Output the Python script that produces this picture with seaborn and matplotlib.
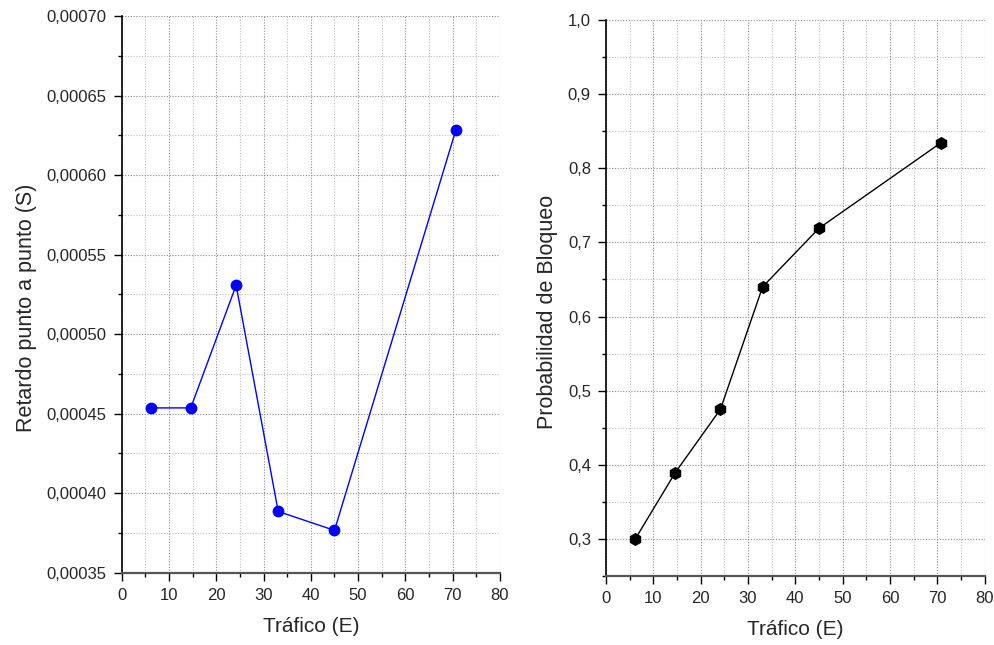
import matplotlib
matplotlib.use("Agg")
import matplotlib.pyplot as plt
from matplotlib.ticker import FuncFormatter, MultipleLocator
import seaborn as sns
import pandas as pd

# Offered traffic (Erlang) for each simulation run
trafico = [6.2, 14.6, 24.2, 33.1, 45.0, 70.7]
# End-to-end delay (s)
retardo = [0.0004536, 0.0004536, 0.0005307, 0.0003885, 0.0003766, 0.0006286]
# Blocking probability
prob_bloqueo = [0.300, 0.389, 0.475, 0.640, 0.719, 0.834]

x_label = "Tráfico (E)"
y_label_retardo = "Retardo punto a punto (S)"
y_label_bloqueo = "Probabilidad de Bloqueo"

df = pd.DataFrame({"trafico": trafico, "retardo": retardo, "bloqueo": prob_bloqueo})

sns.set_style("white")
plt.rcParams["font.family"] = ["Liberation Sans", "DejaVu Sans"]

fig = plt.figure(figsize=(9.95, 6.45), dpi=100)
ax1 = fig.add_axes([0.1223, 0.1121, 0.3802, 0.8631])
ax2 = fig.add_axes([0.6090, 0.1070, 0.3805, 0.8620])

sns.lineplot(data=df, x="trafico", y="retardo", ax=ax1, color="#0000ff",
             linewidth=1.0, marker="o", markersize=8.5, markeredgecolor="#0000ff",
             markeredgewidth=0)
sns.lineplot(data=df, x="trafico", y="bloqueo", ax=ax2, color="black",
             linewidth=1.0, marker="h", markersize=9.5, markeredgecolor="black",
             markeredgewidth=0)


def style_axes(ax, ylim, ymajor, yminor, fmt):
    ax.set_xlim(0, 80)
    ax.set_ylim(*ylim)
    ax.xaxis.set_major_locator(MultipleLocator(10))
    ax.xaxis.set_minor_locator(MultipleLocator(5))
    ax.yaxis.set_major_locator(MultipleLocator(ymajor))
    ax.yaxis.set_minor_locator(MultipleLocator(yminor))
    ax.yaxis.set_major_formatter(FuncFormatter(lambda v, p: fmt(v).replace(".", ",")))
    ax.grid(True, which="major", color="#8c8c8c", linestyle=(0, (1, 1.5)), linewidth=0.8)
    ax.grid(True, which="minor", color="#c0c0c0", linestyle=(0, (1, 1.5)), linewidth=0.8)
    ax.set_axisbelow(True)
    for side in ("top", "right"):
        ax.spines[side].set_visible(False)
    ax.spines["left"].set_color("black")
    ax.spines["left"].set_linewidth(1.2)
    ax.spines["bottom"].set_color("#555555")
    ax.spines["bottom"].set_linewidth(1.6)
    ax.tick_params(which="major", direction="out", length=5.8, width=1.0,
                   labelsize=12, color="black", pad=5, bottom=True, left=True)
    ax.tick_params(which="minor", direction="out", length=2.6, width=1.0,
                   color="black", bottom=True, left=True)
    ax.set_xlabel(x_label, fontsize=15, labelpad=10)


style_axes(ax1, (0.00035, 0.00070), 0.00005, 0.000025, lambda v: f"{v:.5f}")
style_axes(ax2, (0.25, 1.0), 0.1, 0.05, lambda v: f"{v:.1f}")
ax1.set_ylabel(y_label_retardo, fontsize=15.5, labelpad=7)
ax2.set_ylabel(y_label_bloqueo, fontsize=15.5, labelpad=7)
ax1.yaxis.label.set_y(0.475)
ax2.yaxis.label.set_y(0.475)

fig.savefig("out.png", dpi=100, facecolor="white")
